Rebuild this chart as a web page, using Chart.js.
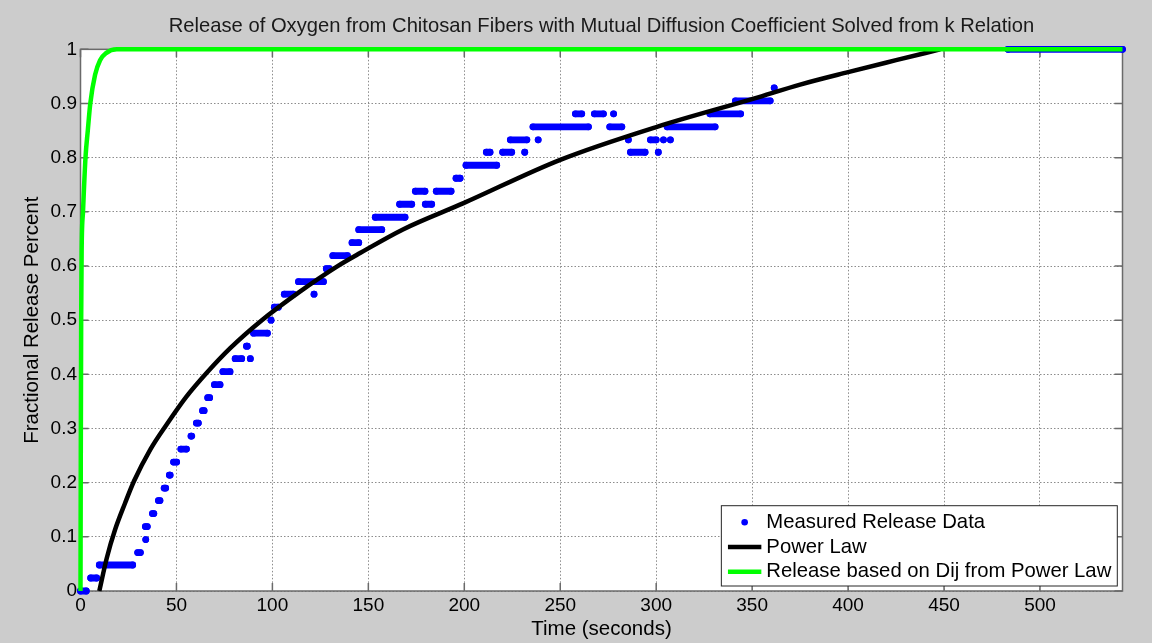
<!DOCTYPE html>
<html>
<head>
<meta charset="utf-8">
<script src="https://cdn.jsdelivr.net/npm/chart.js@4.4.1/dist/chart.umd.min.js"></script>
<style>
html,body{margin:0;padding:0;background:#cccccc;overflow:hidden}
#wrap{width:1152px;height:643px;position:relative}
</style>
</head>
<body>
<div id="wrap"><canvas id="c" width="1152" height="643"></canvas></div>
<script>
// ---------- DATA ----------
const titleText = "Release of Oxygen from Chitosan Fibers with Mutual Diffusion Coefficient Solved from k Relation";
const xAxisTitle = "Time (seconds)";
const yAxisTitle = "Fractional Release Percent";
const seriesLabels = ["Measured Release Data", "Power Law", "Release based on Dij from Power Law"];

const xTicks = [0, 50, 100, 150, 200, 250, 300, 350, 400, 450, 500];
const xTickLabels = ["0", "50", "100", "150", "200", "250", "300", "350", "400", "450", "500"];
const yTicks = [0, 0.1, 0.2, 0.3, 0.4, 0.5, 0.6, 0.7, 0.8, 0.9, 1];
const yTickLabels = ["0", "0.1", "0.2", "0.3", "0.4", "0.5", "0.6", "0.7", "0.8", "0.9", "1"];
const xMax = 543;

// Measured release data: runs of consecutive samples at the same level (start time, end time, level)
const runStart = [0, 5.3, 9.8, 29.8, 34, 33.8, 37.5, 40.6, 43.6, 46.3, 48.5, 52.3, 57.6, 60.4, 63.6, 66.3, 69.8, 74.2,
  80.6, 88.5, 86.5, 90.2, 99.3, 101, 106.2, 121.7, 113.6, 128.1, 131.5, 141.5, 145, 153.6, 166.3, 179.7, 174.5, 185.4,
  195.7, 200.9, 211.5, 220, 231.5, 224, 238.5, 235.8, 275.8, 257.9, 267.8, 277.8, 286.6, 301.1, 285.5, 297, 303.8, 307.4,
  305.7, 328, 341.3, 361.5, 483.3];
const runEnd = [3, 8.4, 27.2, 31.2, 34, 34.8, 38.2, 41.4, 44.4, 46.7, 50.1, 55.2, 58, 61.4, 64.4, 67.3, 72.7, 77.9,
  84, 88.5, 86.9, 97.4, 99.3, 103.1, 110.9, 121.7, 126.6, 129.7, 139.1, 145, 157, 169.1, 172.6, 183, 179.5, 193.1,
  197.8, 216.9, 213.4, 224.7, 231.5, 232.6, 238.5, 264.7, 282.1, 261.2, 272.5, 277.8, 294.2, 301.1, 285.5, 300, 303.8, 307.4,
  330.7, 344, 359.4, 361.5, 543];
const runLevel = [0, 0.024, 0.048, 0.071, 0.095, 0.119, 0.143, 0.167, 0.19, 0.214, 0.238, 0.262, 0.286, 0.31, 0.333, 0.357, 0.381, 0.405,
  0.429, 0.429, 0.452, 0.476, 0.5, 0.524, 0.548, 0.548, 0.571, 0.595, 0.619, 0.643, 0.667, 0.69, 0.714, 0.714, 0.738, 0.738,
  0.762, 0.786, 0.81, 0.81, 0.81, 0.833, 0.833, 0.857, 0.857, 0.881, 0.881, 0.881, 0.81, 0.81, 0.833, 0.833, 0.833, 0.833,
  0.857, 0.881, 0.905, 0.929, 1];

// Power law fit
const powerTime = [9.8, 13.7, 18, 23.2, 27.9, 36.5, 45, 55, 65.8, 77.9, 94.5, 113.6, 133.6, 145.7, 168.3, 199.6, 250, 300.4, 350.8, 375, 400, 425, 448];
const powerValue = [0, 0.061, 0.113, 0.162, 0.203, 0.262, 0.308, 0.358, 0.403, 0.448, 0.5, 0.551, 0.599, 0.624, 0.668, 0.716, 0.796, 0.857, 0.909, 0.935, 0.958, 0.98, 1];

// Release based on Dij from power law
const dijTime = [0, 0.15, 0.35, 0.6, 1.3, 2.6, 3.8, 5.1, 7.6, 10.2, 13.3, 18.9, 543];
const dijValue = [0, 0.25, 0.5, 0.63, 0.7, 0.8, 0.85, 0.9, 0.953, 0.98, 0.993, 1, 1];

// ---------- BUILD ----------
const FONT = "'Liberation Sans', Arial, Helvetica, sans-serif";
Chart.defaults.font.family = FONT;
Chart.defaults.color = '#000';

const measuredPoints = [];
runStart.forEach((s, i) => {
  measuredPoints.push({x: s, y: runLevel[i]});
  if (runEnd[i] !== s) measuredPoints.push({x: runEnd[i], y: runLevel[i]});
  measuredPoints.push({x: runEnd[i], y: null});
});
const powerPoints = powerTime.map((t, i) => ({x: t, y: powerValue[i]}));
const dijPoints = dijTime.map((t, i) => ({x: t, y: dijValue[i]}));

const AXIS_COLOR = '#6a6a6a';

const bgPlugin = {
  id: 'bg',
  beforeDraw(chart) {
    const {ctx, chartArea: a} = chart;
    ctx.save();
    ctx.fillStyle = '#cccccc';
    ctx.fillRect(0, 0, chart.width, chart.height);
    ctx.fillStyle = '#ffffff';
    ctx.fillRect(a.left, a.top, a.right - a.left, a.bottom - a.top);
    ctx.restore();
  }
};

const boxPlugin = {
  id: 'box',
  beforeDatasetsDraw(chart) {
    const {ctx, chartArea: a, scales} = chart;
    ctx.save();
    ctx.strokeStyle = AXIS_COLOR;
    ctx.lineWidth = 1.5;
    ctx.setLineDash([]);
    ctx.strokeRect(a.left, a.top, a.right - a.left, a.bottom - a.top);
    const tl = 8;
    ctx.beginPath();
    xTicks.forEach(v => {
      const p = scales.x.getPixelForValue(v);
      ctx.moveTo(p, a.bottom); ctx.lineTo(p, a.bottom - tl);
      ctx.moveTo(p, a.top); ctx.lineTo(p, a.top + tl);
    });
    yTicks.forEach(v => {
      const p = scales.y.getPixelForValue(v);
      ctx.moveTo(a.left, p); ctx.lineTo(a.left + tl, p);
      ctx.moveTo(a.right, p); ctx.lineTo(a.right - tl, p);
    });
    ctx.stroke();
    ctx.restore();
  }
};

const legendPlugin = {
  id: 'mlegend',
  afterDraw(chart) {
    const {ctx, chartArea: a} = chart;
    const ds = chart.data.datasets;
    ctx.save();
    ctx.font = '20.3px ' + FONT;
    let tw = 0;
    ds.forEach(d => { tw = Math.max(tw, ctx.measureText(d.label).width); });
    const boxW = 45 + tw + 6;
    const boxH = 80.3;
    const right = a.right - 5.2;
    const bottom = a.bottom - 5;
    const left = right - boxW;
    const top = bottom - boxH;
    ctx.fillStyle = '#ffffff';
    ctx.fillRect(left, top, boxW, boxH);
    ctx.strokeStyle = '#262626';
    ctx.lineWidth = 1;
    ctx.strokeRect(left, top, boxW, boxH);
    ds.forEach((d, i) => {
      const cy = top + 16.6 + i * 24.7;
      if (d.legendKind === 'dot') {
        ctx.fillStyle = d.pointBackgroundColor;
        ctx.beginPath();
        ctx.arc(left + 23.3, cy, 3.3, 0, Math.PI * 2);
        ctx.fill();
      } else {
        ctx.strokeStyle = d.borderColor;
        ctx.lineWidth = d.borderWidth;
        ctx.beginPath();
        ctx.moveTo(left + 6.6, cy);
        ctx.lineTo(left + 40, cy);
        ctx.stroke();
      }
      ctx.fillStyle = '#000';
      ctx.textBaseline = 'middle';
      ctx.textAlign = 'left';
      ctx.fillText(d.label, left + 45, cy);
    });
    ctx.restore();
  }
};

new Chart(document.getElementById('c'), {
  type: 'line',
  data: {
    datasets: [
      {
        label: seriesLabels[0], legendKind: 'dot', data: measuredPoints,
        borderColor: '#0000ff', backgroundColor: '#0000ff',
        borderWidth: 6.8, borderCapStyle: 'round', borderJoinStyle: 'round',
        pointRadius: 3.4, pointBorderWidth: 0, pointBackgroundColor: '#0000ff',
        spanGaps: false, tension: 0, fill: false, order: 3, clip: 8
      },
      {
        label: seriesLabels[1], legendKind: 'line', data: powerPoints,
        borderColor: '#000000', backgroundColor: '#000000', borderWidth: 4.5,
        pointRadius: 0, cubicInterpolationMode: 'monotone', fill: false, order: 2, clip: 8
      },
      {
        label: seriesLabels[2], legendKind: 'line', data: dijPoints,
        borderColor: '#00ff00', backgroundColor: '#00ff00', borderWidth: 4.5,
        pointRadius: 0, cubicInterpolationMode: 'monotone', fill: false, order: 1, clip: 8
      }
    ]
  },
  options: {
    responsive: false,
    animation: false,
    events: [],
    devicePixelRatio: 1,
    layout: {padding: {left: 0, right: 29.5, top: 0, bottom: 0}},
    plugins: {
      legend: {display: false},
      tooltip: {enabled: false},
      title: {
        display: true, text: titleText, fullSize: false, color: '#1a1a1a',
        font: {family: FONT, size: 20.2, weight: 'normal'},
        padding: {top: 14.6, bottom: 10.5}
      }
    },
    scales: {
      x: {
        type: 'linear', min: 0, max: xMax,
        afterBuildTicks: s => { s.ticks = xTicks.map(v => ({value: v})); },
        afterFit: s => { s.height = 52; },
        ticks: {
          callback: (v, i) => xTickLabels[i], autoSkip: false, maxRotation: 0,
          font: {size: 19}, color: '#000', padding: 3.5
        },
        grid: {color: '#8c8c8c', lineWidth: 1, drawTicks: false},
        border: {display: false, dash: [1.5, 2]},
        title: {display: true, text: xAxisTitle, color: '#000', font: {size: 20.5}, padding: {top: 0, bottom: 1}}
      },
      y: {
        type: 'linear', min: 0, max: 1,
        afterBuildTicks: s => { s.ticks = yTicks.map(v => ({value: v})); },
        afterFit: s => { s.width = 80.5; },
        ticks: {
          callback: (v, i) => yTickLabels[i], autoSkip: false,
          font: {size: 19}, color: '#000', padding: 3.5
        },
        grid: {color: '#8c8c8c', lineWidth: 1, drawTicks: false},
        border: {display: false, dash: [1.5, 2]},
        title: {display: true, text: yAxisTitle, color: '#000', font: {size: 20.5}, padding: {top: 19.7, bottom: 0}}
      }
    }
  },
  plugins: [bgPlugin, boxPlugin, legendPlugin]
});
</script>
</body>
</html>
